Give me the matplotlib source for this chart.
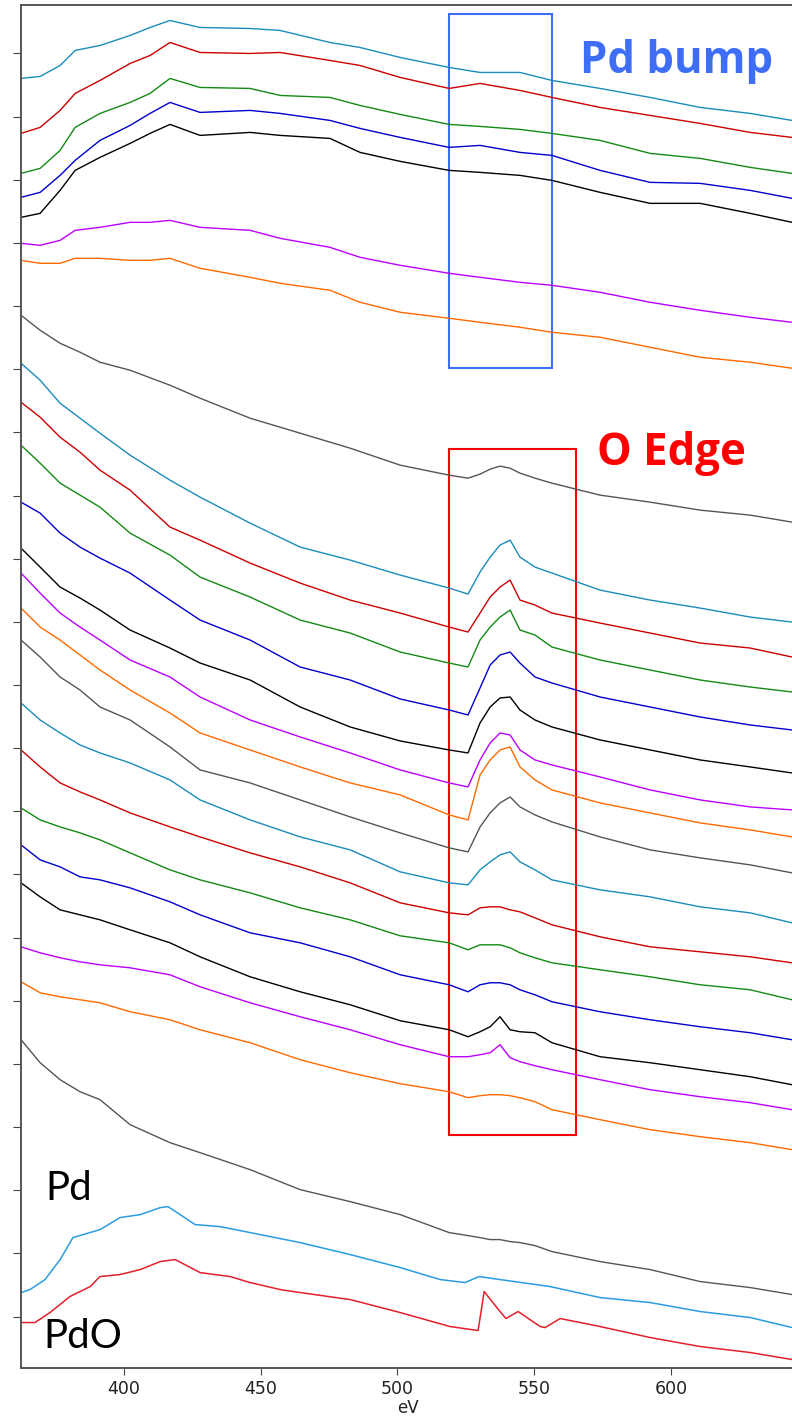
import numpy as np
import matplotlib
matplotlib.use("Agg")
import matplotlib.pyplot as plt
from matplotlib.patches import Rectangle

# energy grids (eV)
ev_top = [362.3, 369.3, 376.6, 382.1, 391.2, 402.2, 409.5, 416.8, 427.8, 446.1, 457.1, 475.3,
          486.3, 501.0, 518.9, 530.2, 544.8, 556.5, 574.1, 592.4, 610.7, 629.0, 644.3]
ev_edge = [362.3, 369.3, 376.6, 383.9, 391.2, 402.2, 416.8, 427.8, 446.1, 464.4, 482.7, 501.0, 518.9,
           525.8, 530.2, 533.9, 537.5, 541.2, 544.8, 550.3, 556.5, 574.1, 592.4, 610.7, 629.0, 644.3]
ev_pd = [362.3, 365.6, 371.1, 376.6, 381.3, 391.2, 398.5, 405.9, 413.2, 416.1, 426.0, 435.1, 446.1,
         464.4, 482.7, 501.0, 515.6, 524.7, 529.8, 537.5, 555.8, 574.1, 592.4, 610.7, 629.0, 644.3]
ev_pdo = [362.3, 367.4, 372.9, 380.2, 387.6, 391.2, 398.5, 405.9, 413.2, 418.7, 427.8, 438.8, 446.1,
          457.1, 464.4, 482.7, 501.0, 519.2, 529.5, 531.7, 537.5, 539.7, 544.1, 552.2, 554.0, 559.5,
          565.0, 574.1, 592.4, 610.7, 629.0, 644.3]

# stacked spectra, top group (Pd bump region), offset intensities
top_cyan = [129.0, 129.2, 130.3, 131.8, 132.3, 133.3, 134.1, 134.8, 134.1, 134.0, 133.8, 132.6,
            132.1, 131.1, 130.1, 129.6, 129.6, 128.8, 128.0, 127.1, 126.1, 125.5, 124.8]
top_red = [123.5, 124.1, 125.8, 127.5, 128.8, 130.5, 131.3, 132.6, 131.6, 131.5, 131.6, 130.8,
           130.3, 129.1, 128.0, 128.5, 127.8, 127.1, 126.1, 125.3, 124.5, 123.6, 123.1]
top_green = [119.5, 120.0, 121.8, 124.1, 125.5, 126.6, 127.5, 129.0, 128.1, 128.0, 127.3, 127.1,
             126.3, 125.4, 124.4, 124.2, 123.9, 123.5, 122.8, 121.5, 121.0, 120.1, 119.5]
top_blue = [117.1, 117.6, 119.3, 120.8, 122.8, 124.3, 125.5, 126.6, 125.6, 125.8, 125.5, 124.8,
            124.0, 123.1, 122.1, 122.3, 121.6, 121.3, 119.8, 118.6, 118.5, 117.8, 117.0]
top_black = [115.1, 115.5, 117.8, 119.8, 121.1, 122.5, 123.5, 124.4, 123.3, 123.6, 123.3, 123.0,
             121.6, 120.7, 119.8, 119.6, 119.3, 118.8, 117.6, 116.5, 116.5, 115.5, 114.6]
top_magenta = [112.5, 112.3, 112.8, 113.8, 114.1, 114.6, 114.6, 114.8, 114.1, 113.8, 113.0, 112.1,
               111.1, 110.3, 109.5, 109.1, 108.6, 108.3, 107.6, 106.6, 105.8, 105.1, 104.6]
top_orange = [110.8, 110.5, 110.5, 111.0, 111.0, 110.8, 110.8, 111.0, 110.0, 109.1, 108.5, 107.8,
              106.6, 105.6, 105.0, 104.6, 104.1, 103.6, 103.1, 102.1, 101.1, 100.6, 100.0]

# O edge group
edge_grey1 = [105.3, 103.8, 102.5, 101.6, 100.6, 99.8, 98.3, 97.0, 95.0, 93.5, 92.0, 90.3, 89.3,
              89.0, 89.4, 89.9, 90.2, 90.0, 89.5, 89.0, 88.5, 87.3, 86.6, 85.8, 85.3, 84.6]
edge_cyan2 = [100.5, 98.8, 96.5, 95.0, 93.5, 91.3, 88.8, 87.1, 84.5, 82.1, 80.8, 79.3, 78.0,
              77.4, 79.6, 81.1, 82.3, 82.8, 81.1, 80.1, 79.5, 77.8, 76.8, 76.0, 75.1, 74.6]
edge_red2 = [96.6, 95.1, 93.1, 91.6, 89.8, 87.8, 84.1, 82.8, 80.5, 78.5, 76.8, 75.5, 74.1,
             73.6, 75.5, 77.1, 78.1, 78.8, 76.8, 76.3, 75.5, 74.5, 73.5, 72.5, 72.0, 71.1]
edge_green2 = [92.3, 90.5, 88.5, 87.3, 86.1, 83.5, 81.3, 79.1, 77.1, 74.8, 73.5, 71.6, 70.5,
               70.1, 72.8, 74.1, 75.1, 75.8, 73.8, 73.3, 72.1, 70.8, 69.8, 68.8, 68.1, 67.6]
edge_blue2 = [86.6, 85.5, 83.5, 82.1, 81.0, 79.5, 76.8, 74.8, 72.8, 70.1, 68.8, 66.9, 65.8,
              65.3, 68.0, 70.3, 71.3, 71.6, 70.5, 69.1, 68.5, 67.1, 66.1, 65.1, 64.3, 63.8]
edge_black2 = [82.0, 80.1, 78.1, 77.0, 75.8, 73.8, 72.0, 70.5, 68.8, 66.1, 64.1, 62.7, 61.8,
               61.5, 64.5, 66.1, 67.0, 67.1, 65.8, 64.8, 64.1, 62.8, 61.8, 60.8, 60.1, 59.5]
edge_magenta2 = [79.5, 77.5, 75.5, 74.1, 72.8, 70.8, 69.1, 67.1, 64.8, 63.1, 61.5, 59.8, 58.5,
                 58.1, 60.8, 62.5, 63.5, 63.3, 61.8, 60.8, 60.3, 59.1, 57.8, 56.8, 56.1, 55.8]
edge_orange2 = [76.0, 74.1, 72.8, 71.3, 69.8, 67.8, 65.5, 63.5, 61.8, 60.1, 58.5, 57.3, 55.3,
                54.8, 59.3, 60.8, 61.8, 62.1, 60.1, 58.8, 57.8, 56.5, 55.5, 54.5, 53.8, 53.1]
edge_grey2 = [72.8, 71.1, 69.1, 67.8, 66.1, 64.8, 62.1, 59.8, 58.5, 56.8, 55.1, 53.5, 52.0,
              51.6, 54.1, 55.5, 56.5, 57.1, 56.1, 55.3, 54.6, 53.1, 51.8, 51.0, 50.3, 49.5]
edge_cyan3 = [66.5, 64.8, 63.5, 62.3, 61.5, 60.5, 58.8, 56.8, 54.8, 53.1, 51.8, 49.6, 48.5,
              48.3, 49.8, 50.6, 51.3, 51.6, 50.6, 49.8, 48.8, 47.8, 47.1, 46.1, 45.5, 44.5]
edge_red3 = [61.8, 60.1, 58.5, 57.6, 56.8, 55.5, 54.1, 53.1, 51.5, 50.1, 48.5, 46.5, 45.5,
             45.3, 46.0, 46.1, 46.1, 45.8, 45.6, 45.0, 44.3, 43.1, 42.1, 41.6, 41.1, 40.5]
edge_green3 = [56.0, 54.8, 54.1, 53.5, 52.8, 51.5, 49.8, 48.8, 47.5, 46.0, 44.8, 43.2, 42.5,
               41.8, 42.3, 42.3, 42.3, 42.0, 41.5, 41.0, 40.5, 39.8, 39.1, 38.3, 37.8, 36.8]
edge_blue3 = [52.3, 50.8, 50.1, 49.1, 48.8, 48.0, 46.6, 45.3, 43.5, 42.5, 41.1, 39.3, 38.3,
              37.6, 38.3, 38.5, 38.5, 38.3, 37.8, 37.3, 36.6, 35.6, 34.8, 34.1, 33.5, 32.8]
edge_black3 = [48.5, 47.1, 45.8, 45.3, 44.8, 43.8, 42.5, 41.1, 39.1, 37.6, 36.3, 34.7, 33.8,
               33.1, 33.6, 34.1, 35.1, 33.8, 33.6, 33.5, 32.5, 31.1, 30.5, 29.8, 29.1, 28.3]
edge_magenta3 = [42.1, 41.5, 41.0, 40.6, 40.3, 40.0, 39.3, 38.1, 36.5, 35.1, 33.8, 32.3, 31.1,
                 31.1, 31.3, 31.5, 32.3, 31.0, 30.6, 30.2, 29.8, 28.8, 27.8, 27.1, 26.5, 25.8]
edge_orange3 = [38.6, 37.5, 37.1, 36.8, 36.5, 35.6, 34.8, 33.8, 32.5, 30.8, 29.5, 28.4, 27.6,
                27.0, 27.2, 27.3, 27.3, 27.2, 27.0, 26.6, 25.8, 24.8, 23.8, 23.1, 22.5, 21.8]
edge_grey3 = [32.8, 30.5, 28.8, 27.6, 26.8, 24.3, 22.5, 21.5, 19.8, 17.8, 16.6, 15.3, 13.5,
              13.2, 13.0, 12.8, 12.8, 12.6, 12.5, 12.2, 11.6, 10.6, 9.8, 8.6, 8.0, 7.3]

# references
ref_pd = [7.5, 7.8, 8.8, 10.8, 13.0, 13.8, 15.0, 15.3, 16.0, 16.1, 14.3, 14.1, 13.5,
          12.5, 11.3, 10.0, 8.8, 8.5, 9.1, 8.8, 8.1, 7.0, 6.5, 5.6, 5.0, 4.0]
ref_pdo = [4.5, 4.5, 5.5, 7.1, 8.1, 9.1, 9.3, 9.8, 10.6, 10.8, 9.5, 9.1, 8.5, 7.8, 7.5, 6.8,
           5.5, 4.1, 3.7, 7.6, 5.6, 4.9, 5.6, 4.1, 4.0, 4.9, 4.6, 4.1, 3.0, 2.1, 1.5, 0.8]

cyan, red, green, blue = '#1a8cba', '#cc0000', '#138a13', '#0000cc'
black, magenta, orange, grey = '#000000', '#bb00ff', '#ff6a00', '#555555'

top_series = [(top_cyan, cyan), (top_red, red), (top_green, green), (top_blue, blue),
              (top_black, black), (top_magenta, magenta), (top_orange, orange)]
edge_series = [(edge_grey1, grey),
               (edge_cyan2, cyan), (edge_red2, red), (edge_green2, green), (edge_blue2, blue),
               (edge_black2, black), (edge_magenta2, magenta), (edge_orange2, orange), (edge_grey2, grey),
               (edge_cyan3, cyan), (edge_red3, red), (edge_green3, green), (edge_blue3, blue),
               (edge_black3, black), (edge_magenta3, magenta), (edge_orange3, orange), (edge_grey3, grey)]

fig = plt.figure(figsize=(7.92, 14.21), dpi=100)
ax = fig.add_axes([21/792, 53.5/1421, 774/792, 1363/1421])

for vals, c in top_series:
    ax.plot(ev_top, vals, color=c, lw=1.0)
for vals, c in edge_series:
    ax.plot(ev_edge, vals, color=c, lw=1.0)
ax.plot(ev_pd, ref_pd, color='#2a9de0', lw=1.1)
ax.plot(ev_pdo, ref_pdo, color='#e3202a', lw=1.1)

ax.add_patch(Rectangle((518.9, 100.0), 37.6, 35.4, fill=False, ec='#3d6ef5', lw=1.5))
ax.add_patch(Rectangle((518.9, 23.3), 46.4, 68.6, fill=False, ec='#ff0000', lw=1.5))

ax.text(566.8, 129.5, 'Pd bump', color='#3d6ef5', fontsize=31.5, fontweight='bold',
        family='Open Sans', va='baseline')
ax.text(573.0, 90.3, 'O Edge', color='#ff0000', fontsize=31.5, fontweight='bold',
        family='Open Sans', va='baseline')
ax.text(371.1, 16.8, 'Pd', color='black', fontsize=29, family='Lato', va='baseline')
ax.text(370.4, 2.0, 'PdO', color='black', fontsize=29, family='Lato', va='baseline')

ax.set_xlim(362.3, 645.4)
ax.set_ylim(0, 136.4)
ax.set_xticks([400, 450, 500, 550, 600])
ax.set_yticks(np.arange(21) * 6.32 + 5.1)
ax.set_yticklabels([])
ax.tick_params(axis='x', length=5, color='#444444', labelsize=12.5, labelcolor='#222222', pad=4)
ax.tick_params(axis='y', length=6, color='#444444')
ax.set_xlabel('eV', fontsize=12, color='#222222', labelpad=1)
for s in ['left', 'bottom', 'top', 'right']:
    ax.spines[s].set_color('#555555')
    ax.spines[s].set_linewidth(1.4)

fig.savefig('out.png', dpi=100)
